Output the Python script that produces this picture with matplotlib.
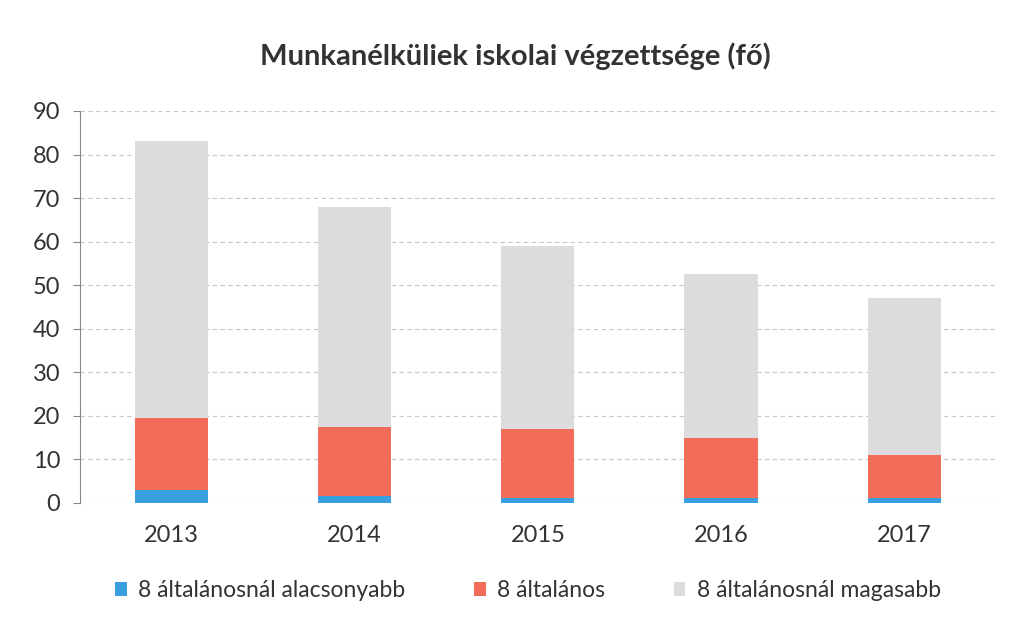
import matplotlib.pyplot as plt
import numpy as np

years = ['2013', '2014', '2015', '2016', '2017']
lower = [3, 1.5, 1, 1, 1]
basic = [16.5, 16, 16, 14, 10]
higher = [63.5, 50.5, 42, 37.5, 36]

labels = ['8 általánosnál alacsonyabb', '8 általános', '8 általánosnál magasabb']
colors = ['#3a9fe0', '#f26c5a', '#dcdbde']

plt.rcParams['font.family'] = ['Lato', 'DejaVu Sans']

fig = plt.figure(figsize=(10.1, 6.27), dpi=100)
ax = fig.add_axes([0.079, 0.198, 0.907, 0.625])

x = np.arange(len(years))
w = 0.4
ax.bar(x, lower, w, color=colors[0], label=labels[0])
ax.bar(x, basic, w, bottom=lower, color=colors[1], label=labels[1])
bottom2 = np.array(lower) + np.array(basic)
ax.bar(x, higher, w, bottom=bottom2, color=colors[2], label=labels[2])

ax.set_xlim(-0.5, 4.5)
ax.set_ylim(0, 90)
ax.set_yticks(range(0, 91, 10))
ax.set_xticks(x)
ax.set_xticklabels(years)
ax.yaxis.grid(True, color='#c8c8c8', linestyle=(0, (4, 3)), linewidth=0.8)
ax.set_axisbelow(True)
for s in ['top', 'right', 'bottom']:
    ax.spines[s].set_visible(False)
ax.spines['left'].set_color('#888888')
ax.tick_params(axis='y', labelsize=17, length=5, color='#888888', pad=9, labelcolor='#333333')
ax.tick_params(axis='x', labelsize=17, length=0, pad=16, labelcolor='#333333')

fig.text(0.51, 0.91, 'Munkanélküliek iskolai végzettsége (fő)', ha='center', va='center',
         fontsize=21, fontweight='bold', color='#333333')

fig.legend(loc='center', bbox_to_anchor=(0.523, 0.058), ncol=3, frameon=False,
           fontsize=16.5, handlelength=0.5, handleheight=0.6, handletextpad=0.5,
           columnspacing=3.0, labelcolor='#333333')

fig.savefig('out.png', dpi=100)
